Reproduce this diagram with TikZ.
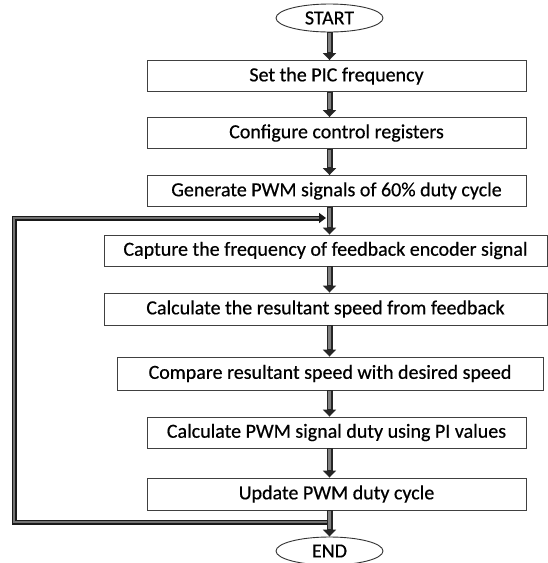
\documentclass[tikz,border=0pt]{standalone}
\usepackage{fontspec}
\setmainfont{Carlito}
\newfontfamily\boxfont{Carlito}[FakeBold=0.5]
\usetikzlibrary{arrows.meta,shapes.geometric}
\begin{document}
\begin{tikzpicture}[x=1pt,y=1pt,
  box/.style={draw=black!75, line width=0.9pt, rectangle, inner sep=0pt, minimum height=31pt,
    font=\boxfont\fontsize{20}{22}\selectfont},
  term/.style={draw=black!80, line width=0.9pt, ellipse, inner sep=0pt, minimum width=107pt, minimum height=28pt,
    font=\boxfont\fontsize{20}{22}\selectfont},
  blk/.style={line width=6pt, draw=black!85, -{Triangle[length=7pt,width=13pt]},
    postaction={draw=black!50, line width=3pt, shorten >=8pt, shorten <=1pt, -}},
  fbarrow/.style={line width=5pt, draw=black!90, line join=miter, -{Triangle[length=7pt,width=10pt]},
    postaction={draw=black!55, line width=1.5pt, shorten >=7pt, line join=miter, -}}
]
\useasboundingbox (0,0) rectangle (548,-563);
\fill[white] (0,0) rectangle (548,-563);

\node[term] (s) at (329.5,-18) {START};
\node[box, minimum width=379pt] (b1) at (336.5,-76) {Set the PIC frequency};
\node[box, minimum width=379pt] (b2) at (336.5,-133) {Configure control registers};
\node[box, minimum width=379pt] (b3) at (336.5,-191) {Generate PWM signals of 60\% duty cycle};
\node[box, minimum width=443pt] (b4) at (325.5,-250.5) {Capture the frequency of feedback encoder signal};
\node[box, minimum width=443pt, minimum height=32pt] (b5) at (325.5,-309) {Calculate the resultant speed from feedback};
\node[box, minimum width=426pt, minimum height=33pt] (b6) at (330,-373.5) {Compare resultant speed with desired speed};
\node[box, minimum width=379pt] (b7) at (336.5,-432.5) {Calculate PWM signal duty using PI values};
\node[box, minimum width=379pt, minimum height=32pt] (b8) at (336.5,-494) {Update PWM duty cycle};
\node[term] (e) at (329.5,-551) {END};

\draw[blk] (s.south) -- (b1.north -| s.south);
\draw[blk] (b1.south -| s.south) -- (b2.north -| s.south);
\draw[blk] (b2.south -| s.south) -- (b3.north -| s.south);
\draw[blk] (b3.south -| s.south) -- (b4.north -| s.south);
\draw[blk] (b4.south -| s.south) -- (b5.north -| s.south);
\draw[blk] (b5.south -| s.south) -- (b6.north -| s.south);
\draw[blk] (b6.south -| s.south) -- (b7.north -| s.south);
\draw[blk] (b7.south -| s.south) -- (b8.north -| s.south);

\coordinate (fstart) at (329.5,-522);
\coordinate (fbl) at (14,-522);
\coordinate (ftl) at (14,-218);
\coordinate (fend) at (326,-218);
\draw[fbarrow] (fstart) -- (fbl) -- (ftl) -- (fend);
\draw[blk] (b8.south -| s.south) -- (e.north);
\end{tikzpicture}
\end{document}
